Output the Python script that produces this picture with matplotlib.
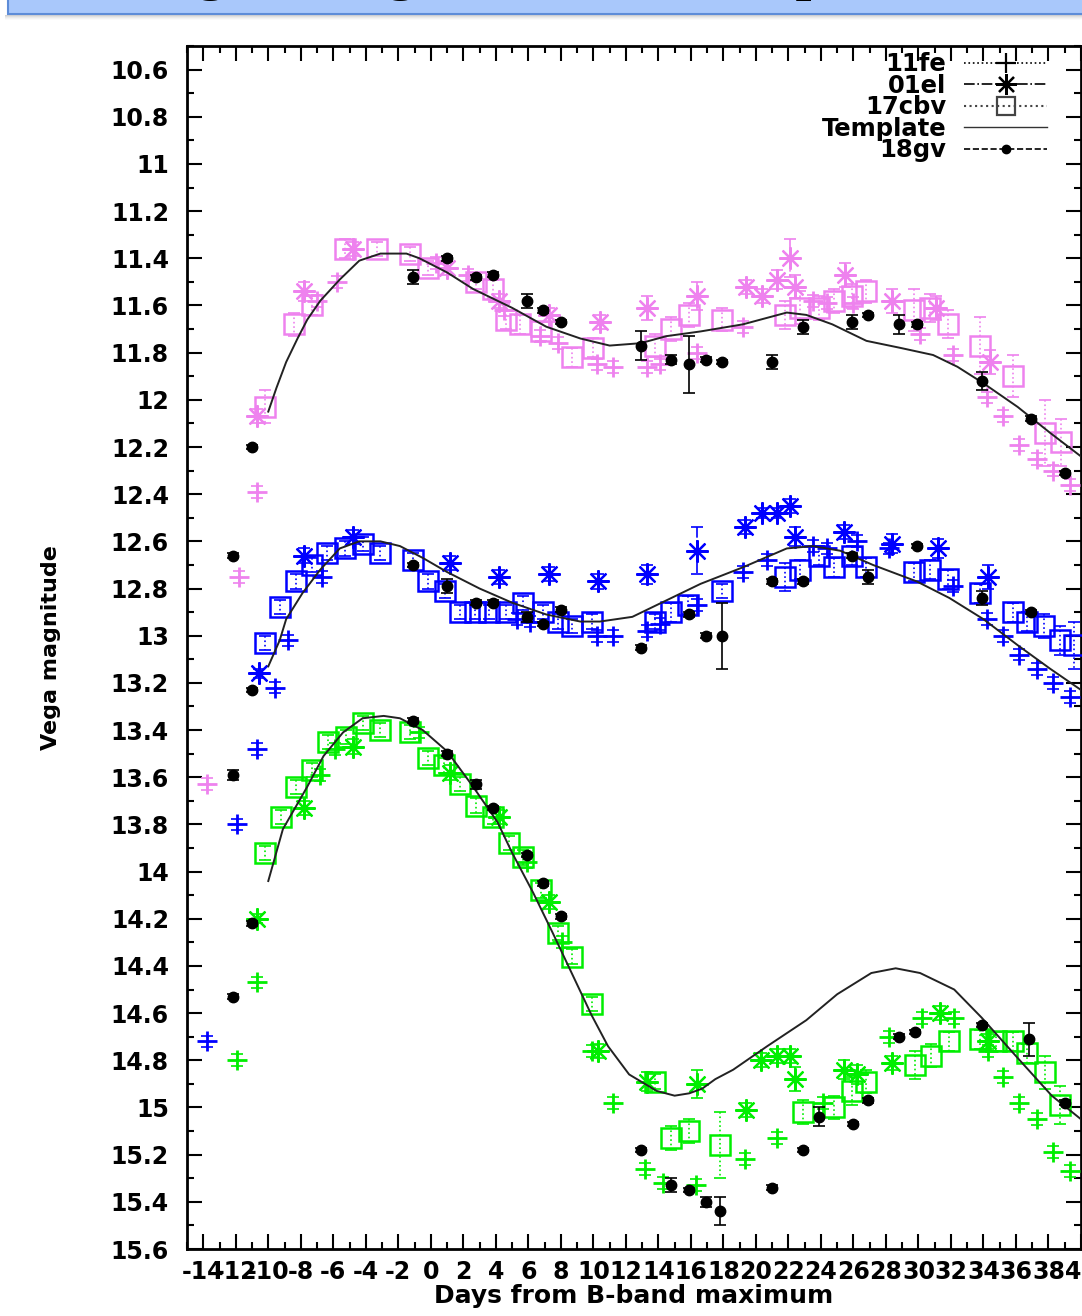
import matplotlib
matplotlib.use('Agg')
import matplotlib.pyplot as plt
from matplotlib.lines import Line2D
from matplotlib.patches import Rectangle
from matplotlib.ticker import MultipleLocator, FuncFormatter

plt.rcParams['font.family'] = ['DejaVu Sans']
plt.rcParams['font.weight'] = 'bold'
plt.rcParams['axes.labelweight'] = 'bold'

# ---------------- data (days from B max, Vega mag) ----------------
# top (violet) group
p_fe_day = [-13.8, -11.8, -10.7, -7.0, -5.8, 0.3, 2.3, 4.5, 6.7, 7.8, 10.2, 11.2, 13.3, 14.1,
            16.4, 19.2, 23.5, 24.4, 26.0, 30.1, 32.1, 34.2, 35.2, 36.2, 37.3, 38.3, 39.3]
p_fe_mag = [13.63, 12.75, 12.39, 11.58, 11.50, 11.42, 11.47, 11.62, 11.73, 11.76, 11.85, 11.86, 11.86, 11.85,
            11.80, 11.69, 11.58, 11.59, 11.59, 11.72, 11.81, 11.99, 12.07, 12.19, 12.25, 12.30, 12.36]

p_el_day = [-10.7, -7.8, -4.8, 1.0, 4.2, 7.3, 10.4, 13.3, 16.4, 19.4, 20.4, 21.3, 22.1, 22.4, 25.5, 28.4, 31.1, 34.4]
p_el_mag = [12.07, 11.54, 11.36, 11.44, 11.58, 11.64, 11.67, 11.61, 11.56, 11.52, 11.56, 11.49, 11.40, 11.52,
            11.47, 11.58, 11.61, 11.84]
p_el_err = [0.03, 0.04, 0.03, 0.03, 0.03, 0.03, 0.03, 0.05, 0.06, 0.03, 0.03, 0.04, 0.08, 0.05, 0.05, 0.05, 0.05, 0.05]

p_cb_day = [-10.2, -8.4, -7.3, -5.3, -3.3, -1.3, -0.2, 2.8, 3.8, 4.6, 5.5, 6.8, 8.7, 10.0, 13.8, 14.8,
            15.9, 17.9, 21.8, 22.7, 23.9, 24.8, 25.9, 26.8, 29.7, 30.7, 31.8, 33.8, 35.8, 37.8, 38.8]
p_cb_mag = [12.03, 11.68, 11.60, 11.36, 11.36, 11.38, 11.44, 11.50, 11.53, 11.66, 11.68, 11.71, 11.82, 11.78,
            11.77, 11.70, 11.64, 11.66, 11.64, 11.61, 11.61, 11.58, 11.56, 11.54, 11.62, 11.61, 11.68,
            11.77, 11.90, 12.14, 12.18]
p_cb_err = [0.07, 0.05, 0.04, 0.04, 0.03, 0.03, 0.03, 0.03, 0.04, 0.04, 0.04, 0.04, 0.04, 0.04, 0.05, 0.05,
            0.05, 0.05, 0.06, 0.07, 0.05, 0.05, 0.05, 0.05, 0.09, 0.06, 0.06, 0.12, 0.09, 0.14, 0.10]

p_tp_day = [-10.0, -9.5, -8.9, -8.2, -7.6, -6.8, -5.6, -4.4, -3.1, -1.5, -0.7, 1.0, 2.6, 5.0, 7.1, 9.2, 11.0,
            12.9, 14.5, 16.6, 19.2, 21.9, 23.1, 24.7, 26.8, 28.9, 30.9, 32.4, 34.0, 36.1, 38.1, 40.0]
p_tp_mag = [12.05, 11.95, 11.84, 11.74, 11.66, 11.58, 11.49, 11.41, 11.38, 11.38, 11.40, 11.46, 11.53, 11.61,
            11.69, 11.74, 11.77, 11.76, 11.73, 11.71, 11.68, 11.63, 11.64, 11.68, 11.75, 11.78, 11.81, 11.86,
            11.93, 12.03, 12.14, 12.24]

p_gv_day = [-12.2, -11.0, -1.1, 1.0, 2.8, 3.8, 5.9, 6.9, 8.0, 12.9, 14.8, 15.9, 16.9, 17.9, 21.0, 22.9,
            25.9, 26.9, 28.8, 29.9, 33.9, 36.9, 39.0]
p_gv_mag = [12.66, 12.20, 11.48, 11.40, 11.48, 11.47, 11.58, 11.62, 11.67, 11.77, 11.83, 11.85, 11.83, 11.84,
            11.84, 11.69, 11.67, 11.64, 11.68, 11.68, 11.92, 12.08, 12.31]
p_gv_err = [0.01, 0.01, 0.03, 0.01, 0.01, 0.01, 0.03, 0.01, 0.01, 0.06, 0.02, 0.12, 0.01, 0.01, 0.03, 0.03,
            0.03, 0.01, 0.04, 0.01, 0.04, 0.01, 0.01]

# middle (blue) group
b_fe_day = [-13.8, -11.9, -10.7, -9.6, -8.8, -6.7, 5.3, 6.1, 10.2, 11.2, 13.3, 14.1, 16.4, 19.2, 20.7,
            23.5, 24.4, 26.2, 28.2, 32.1, 34.2, 35.2, 36.2, 37.3, 38.3, 39.3]
b_fe_mag = [14.72, 13.80, 13.48, 13.22, 13.02, 12.75, 12.93, 12.94, 13.00, 13.00, 12.98, 12.95, 12.87, 12.73,
            12.68, 12.62, 12.63, 12.60, 12.63, 12.79, 12.93, 13.00, 13.08, 13.14, 13.20, 13.26]

b_el_day = [-10.6, -7.8, -4.8, 1.2, 4.2, 7.3, 10.3, 13.3, 16.4, 19.3, 20.4, 21.3, 22.1, 22.4, 25.4, 28.4, 31.2, 34.3]
b_el_mag = [13.16, 12.66, 12.58, 12.69, 12.75, 12.74, 12.77, 12.74, 12.64, 12.54, 12.48, 12.48, 12.45, 12.58,
            12.56, 12.61, 12.63, 12.75]
b_el_err = [0.02, 0.03, 0.03, 0.03, 0.03, 0.03, 0.03, 0.04, 0.10, 0.03, 0.02, 0.02, 0.03, 0.04, 0.03, 0.04, 0.04, 0.05]

b_cb_day = [-10.2, -9.3, -8.3, -7.3, -6.4, -5.3, -4.2, -3.1, -1.1, -0.2, 0.9, 1.8, 2.7, 3.6, 4.6, 5.7, 6.9,
            7.8, 8.7, 9.9, 13.8, 14.8, 15.8, 17.9, 21.8, 22.7, 23.9, 24.8, 25.9, 26.8, 29.7, 30.7, 31.8, 33.8,
            35.8, 36.7, 37.7, 38.7, 39.6]
b_cb_mag = [13.03, 12.88, 12.77, 12.70, 12.65, 12.63, 12.61, 12.65, 12.68, 12.77, 12.81, 12.90, 12.90, 12.90,
            12.90, 12.86, 12.90, 12.94, 12.96, 12.94, 12.94, 12.90, 12.87, 12.81, 12.75, 12.72, 12.66, 12.71,
            12.66, 12.71, 12.73, 12.72, 12.76, 12.82, 12.90, 12.94, 12.96, 13.02, 13.04]
b_cb_err = [0.03, 0.03, 0.03, 0.03, 0.03, 0.03, 0.03, 0.03, 0.03, 0.03, 0.03, 0.03, 0.03, 0.03, 0.03, 0.03,
            0.03, 0.03, 0.03, 0.03, 0.03, 0.04, 0.04, 0.03, 0.06, 0.04, 0.04, 0.04, 0.04, 0.04, 0.04, 0.04,
            0.04, 0.04, 0.04, 0.04, 0.05, 0.06, 0.10]

b_tp_day = [-10.0, -9.3, -8.9, -7.9, -6.8, -5.6, -4.4, -3.1, -1.9, -0.5, 1.0, 3.0, 5.0, 7.1, 9.2, 10.4, 12.4,
            14.5, 16.6, 19.2, 21.9, 23.5, 25.2, 27.2, 29.9, 31.9, 34.0, 36.1, 38.1, 40.0]
b_tp_mag = [13.13, 13.02, 12.93, 12.82, 12.72, 12.63, 12.60, 12.60, 12.62, 12.67, 12.73, 12.80, 12.86, 12.91,
            12.94, 12.94, 12.92, 12.85, 12.78, 12.71, 12.63, 12.62, 12.64, 12.70, 12.77, 12.84, 12.93, 13.04,
            13.14, 13.23]

b_gv_day = [-12.2, -11.0, -1.1, 1.0, 2.8, 3.8, 5.9, 6.9, 8.0, 12.9, 15.9, 16.9, 17.9, 21.0, 22.9, 25.9,
            26.9, 29.9, 33.9, 36.9]
b_gv_mag = [13.59, 13.23, 12.70, 12.79, 12.86, 12.86, 12.92, 12.95, 12.89, 13.05, 12.91, 13.00, 13.00, 12.77,
            12.77, 12.66, 12.75, 12.62, 12.84, 12.90]
b_gv_err = [0.02, 0.01, 0.01, 0.03, 0.01, 0.01, 0.02, 0.01, 0.01, 0.01, 0.01, 0.01, 0.14, 0.01, 0.01, 0.01,
            0.03, 0.01, 0.03, 0.01]

# bottom (green) group
g_fe_day = [-11.9, -10.7, -6.8, -5.9, -0.7, 5.9, 8.1, 9.9, 11.2, 13.2, 14.3, 16.3, 19.3, 21.3, 24.1, 28.2,
            30.2, 32.2, 34.3, 35.2, 36.2, 37.3, 38.3, 39.3]
g_fe_mag = [14.80, 14.47, 13.59, 13.48, 13.41, 13.96, 14.30, 14.76, 14.98, 15.26, 15.32, 15.33, 15.22, 15.13,
            14.98, 14.70, 14.62, 14.62, 14.76, 14.87, 14.98, 15.05, 15.19, 15.27]

g_el_day = [-10.7, -7.8, -4.8, 1.2, 4.2, 7.3, 10.3, 13.3, 16.4, 19.4, 20.3, 21.3, 22.1, 22.4, 25.4, 26.2,
            28.4, 31.3, 34.3]
g_el_mag = [14.20, 13.73, 13.47, 13.58, 13.77, 14.13, 14.76, 14.89, 14.90, 15.01, 14.80, 14.78, 14.78, 14.88,
            14.84, 14.86, 14.81, 14.60, 14.72]
g_el_err = [0.02, 0.03, 0.03, 0.03, 0.03, 0.03, 0.03, 0.04, 0.06, 0.03, 0.03, 0.03, 0.03, 0.05, 0.04, 0.04,
            0.03, 0.03, 0.03]

g_cb_day = [-10.2, -9.2, -8.3, -7.3, -6.3, -5.2, -4.2, -3.1, -1.3, -0.2, 0.8, 1.8, 2.8, 3.8, 4.8, 5.7, 6.8,
            7.8, 8.7, 9.9, 13.8, 14.8, 15.9, 17.8, 22.9, 24.8, 25.9, 26.8, 29.8, 30.8, 31.9, 33.8, 34.8, 35.8,
            36.7, 37.8, 38.7]
g_cb_mag = [13.92, 13.77, 13.64, 13.57, 13.45, 13.43, 13.37, 13.40, 13.41, 13.52, 13.55, 13.63, 13.72, 13.77,
            13.88, 13.94, 14.08, 14.26, 14.36, 14.56, 14.89, 15.13, 15.10, 15.16, 15.02, 15.00, 14.93, 14.89,
            14.82, 14.78, 14.72, 14.71, 14.72, 14.72, 14.77, 14.85, 14.99]
g_cb_err = [0.03, 0.03, 0.03, 0.03, 0.03, 0.03, 0.03, 0.03, 0.03, 0.03, 0.03, 0.03, 0.03, 0.03, 0.03, 0.03,
            0.03, 0.03, 0.03, 0.03, 0.03, 0.05, 0.05, 0.14, 0.05, 0.05, 0.06, 0.05, 0.06, 0.05, 0.04, 0.04,
            0.04, 0.04, 0.04, 0.07, 0.08]

g_tp_day = [-10.0, -9.1, -7.6, -6.6, -5.4, -4.2, -2.9, -1.9, -0.5, 1.0, 2.6, 4.1, 5.0, 6.3, 7.5, 9.9, 10.9,
            12.2, 13.9, 15.0, 15.9, 16.7, 17.5, 18.6, 20.7, 23.1, 25.0, 27.1, 28.6, 30.1, 32.2, 33.9, 36.1,
            38.2, 40.0]
g_tp_mag = [14.04, 13.82, 13.64, 13.51, 13.41, 13.35, 13.34, 13.35, 13.40, 13.49, 13.64, 13.79, 13.92, 14.09,
            14.26, 14.61, 14.74, 14.86, 14.93, 14.95, 14.94, 14.92, 14.88, 14.84, 14.74, 14.63, 14.52, 14.43,
            14.41, 14.43, 14.50, 14.62, 14.79, 14.95, 15.05]

g_gv_day = [-12.2, -11.0, -1.1, 1.0, 2.8, 3.8, 5.9, 6.9, 8.0, 12.9, 14.8, 15.9, 16.9, 17.8, 21.0, 22.9,
            23.9, 26.0, 26.9, 28.8, 29.8, 33.9, 36.8, 39.0]
g_gv_mag = [14.53, 14.22, 13.36, 13.50, 13.63, 13.73, 13.93, 14.05, 14.19, 15.18, 15.33, 15.35, 15.40, 15.44,
            15.34, 15.18, 15.04, 15.07, 14.97, 14.70, 14.68, 14.65, 14.71, 14.98]
g_gv_err = [0.01, 0.01, 0.01, 0.01, 0.02, 0.01, 0.01, 0.01, 0.01, 0.01, 0.03, 0.01, 0.02, 0.06, 0.01, 0.01,
            0.04, 0.01, 0.01, 0.01, 0.01, 0.01, 0.07, 0.01]

fe_err = 0.025  # small errors of 11fe points

labels = ['11fe', '01el', '17cbv', 'Template', '18gv']
colors = ['violet', '#0000ff', '#00ee00']

W, H = 1082, 1316
fig = plt.figure(figsize=(W / 100, H / 100), dpi=100)

# slide banner cut at the top
fig.patches.append(Rectangle((8 / W, 1 - 14 / H), 1.0, 30 / H, transform=fig.transFigure,
                             facecolor='#a9c8fb', edgecolor='#5d8cd8', lw=1.5, zorder=1))
for i, a in enumerate([0.35, 0.25, 0.16, 0.09, 0.04]):
    fig.patches.append(Rectangle((5 / W, 1 - (16 + i) / H), 1.0, 1 / H, transform=fig.transFigure,
                                 facecolor='gray', alpha=a, lw=0, zorder=0))
fig.text(143 / W, 1 + 11 / H, 'Light, Magnitude and Template', fontsize=41, family='Liberation Serif',
         weight='bold', va='baseline', ha='left', zorder=3)

ax = fig.add_axes([187 / W, 1 - 1249 / H, 894 / W, 1203 / H])


def draw_set(days, mags, errs, color, marker, ms, mew, ls, filled=False, z=3):
    eb = ax.errorbar(days, mags, yerr=errs, fmt='none', ecolor=color, elinewidth=1.2,
                     capsize=4, capthick=1.2, zorder=z)
    eb[2][0].set_linestyle(ls)
    ax.plot(days, mags, ls='none', marker=marker, ms=ms, mew=mew, color=color,
            mfc=color if filled else 'none', zorder=z)


groups = [
    (p_fe_day, p_fe_mag, p_el_day, p_el_mag, p_el_err, p_cb_day, p_cb_mag, p_cb_err,
     p_tp_day, p_tp_mag, p_gv_day, p_gv_mag, p_gv_err),
    (b_fe_day, b_fe_mag, b_el_day, b_el_mag, b_el_err, b_cb_day, b_cb_mag, b_cb_err,
     b_tp_day, b_tp_mag, b_gv_day, b_gv_mag, b_gv_err),
    (g_fe_day, g_fe_mag, g_el_day, g_el_mag, g_el_err, g_cb_day, g_cb_mag, g_cb_err,
     g_tp_day, g_tp_mag, g_gv_day, g_gv_mag, g_gv_err),
]

for col, g in zip(colors, groups):
    fe_d, fe_m, el_d, el_m, el_e, cb_d, cb_m, cb_e, tp_d, tp_m, gv_d, gv_m, gv_e = g
    draw_set(fe_d, fe_m, fe_err, col, '+', 15, 2.0, ':')
    draw_set(el_d, el_m, el_e, col, (8, 2, 0), 16, 1.6, '-.')
    draw_set(cb_d, cb_m, cb_e, col, 's', 15, 1.8, ':')
    ax.plot(tp_d, tp_m, color='#222222', lw=1.4, zorder=4)
    draw_set(gv_d, gv_m, gv_e, 'black', 'o', 7.5, 1.0, '-', filled=True, z=5)

ax.set_xlim(-15, 40)
ax.set_ylim(15.6, 10.5)
ax.xaxis.set_major_locator(MultipleLocator(2))
ax.xaxis.set_minor_locator(MultipleLocator(1))
ax.yaxis.set_major_locator(MultipleLocator(0.2))
ax.yaxis.set_minor_locator(MultipleLocator(0.1))
ax.yaxis.set_major_formatter(FuncFormatter(lambda v, p: f'{round(v, 1):g}'))
ax.xaxis.set_major_formatter(FuncFormatter(lambda v, p: f'{int(round(v))}'))
ax.tick_params(which='both', direction='in', top=True, right=True, width=1.5)
ax.tick_params(which='major', length=11, labelsize=17)
ax.tick_params(which='minor', length=5)
ax.tick_params(axis='y', which='major', pad=13)
ax.tick_params(axis='x', which='major', pad=8)
for s in ax.spines.values():
    s.set_linewidth(2)

ax.set_xlabel('Days from B-band maximum', fontsize=18, fontweight='bold')
ax.set_ylabel('Vega magnitude', fontsize=16, fontweight='bold')
ax.xaxis.set_label_coords(0.5, -0.029)
ax.yaxis.set_label_coords(-0.141, 0.5)

handles = [
    Line2D([], [], color='black', ls=':', lw=1.2, marker='+', ms=15, mew=1.6),
    Line2D([], [], color='black', ls='-.', lw=1.2, marker=(8, 2, 0), ms=15, mew=1.6),
    Line2D([], [], color='#444444', ls=':', lw=1.5, marker='s', ms=13, mfc='none', mew=1.6),
    Line2D([], [], color='#333333', lw=1.0),
    Line2D([], [], color='black', ls='--', lw=1.2, marker='o', ms=6),
]
ax.legend(handles, labels, loc='upper right', bbox_to_anchor=(0.962, 0.995), frameon=False,
          markerfirst=False, numpoints=1, fontsize=17.5, handlelength=3.4, handletextpad=0.75,
          labelspacing=-0.1, borderpad=0, borderaxespad=0)

fig.savefig('out.png', dpi=100)
